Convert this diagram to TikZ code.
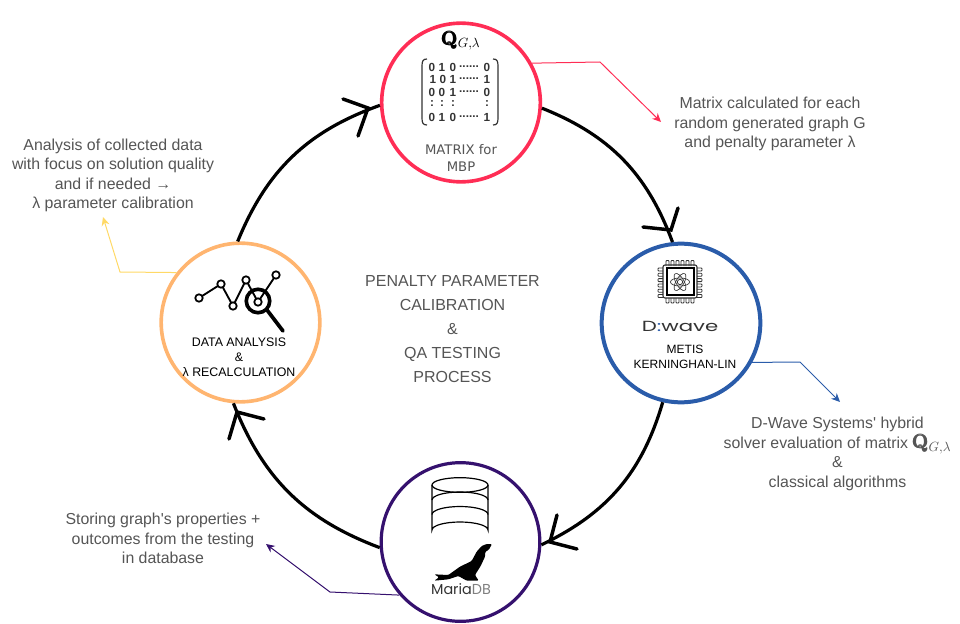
\documentclass[tikz,border=0pt]{standalone}
\usepackage{amsmath}
\usepackage[no-math]{fontspec}
\setmainfont{Liberation Sans}[Ligatures=TeXOff]
\newfontfamily\labelfont{DejaVu Sans}
\newfontfamily\logofont{Poppins}
\usetikzlibrary{arrows.meta}
\definecolor{cred}{HTML}{FF2D55}
\definecolor{cblue}{HTML}{2A5CAA}
\definecolor{cpurple}{HTML}{35116E}
\definecolor{corange}{HTML}{FFB570}
\definecolor{cyellow}{HTML}{FFD966}
\definecolor{ctext}{HTML}{555555}
\definecolor{cdark}{HTML}{333333}
\newcommand\rowdots{{.}{.}{.}{.}{.}{.}}
\newcommand\qmatrix{{\fontsize{14}{14}\selectfont$\pmb{\mathbf{Q}}_{G,\lambda}$}}
\tikzset{
  stage/.style={circle,draw,fill=white,minimum size=119pt,inner sep=0pt,line width=2.7pt},
  cyclearc/.style={line width=2.4pt,black},
  chevron/.style={line width=2.6pt,black,line cap=round},
  pointer/.style={line width=0.75pt,-{Stealth[length=6.5pt,width=6pt]}},
  note/.style={inner sep=0pt,align=center,text=ctext,font=\fontsize{11.9}{14.6}\selectfont},
  titletext/.style={inner sep=0pt,align=center,text=ctext,font=\fontsize{12}{18}\selectfont},
  caption/.style={inner sep=0pt,align=center,text=black,font=\fontsize{9}{11.2}\selectfont},
  digit/.style={inner sep=0pt,text=cdark,font=\bfseries\fontsize{8.8}{8.8}\selectfont},
  icon/.style={cdark,line width=0.8pt},
}
\begin{document}
\begin{tikzpicture}[x=0.75pt,y=-0.75pt]
\useasboundingbox (0,0) rectangle (960,624);
% stages
\node[stage,draw=cred]    (top)    at (461,102.5) {};
\node[stage,draw=cblue,line width=3pt]   (right)  at (681,323) {};
\node[stage,draw=cpurple,line width=2.4pt] (bottom) at (460.5,542) {};
\node[stage,draw=corange] (left)   at (240.5,322.5) {};
% cycle arcs
\draw[cyclearc] (top.-4) to[bend left=24] (right.96);
\draw[cyclearc] (right.257) to[bend left=24] (bottom.-2);
\draw[cyclearc] (bottom.184) to[bend left=24] (left.265);
\draw[cyclearc] (left.92) to[bend left=24] (top.182);
% chevrons
\draw[chevron] (343,99) -- (368,108) -- (358,136);
\draw[chevron] (678,208) -- (671,230) -- (643,227);
\draw[chevron] (557,515) -- (550,542) -- (577,549);
\draw[chevron] (229,439) -- (237,412) -- (264,419);
% centre title
\node[titletext] (title) at (452.5,329) {PENALTY PARAMETER\\CALIBRATION\\\&\\QA TESTING\\PROCESS};
% notes
\node[note] (noteA) at (770,124) {Matrix calculated for each\\random generated graph G\\and penalty parameter λ};
\node[note] (noteB) at (837.5,454) {D-Wave Systems' hybrid\\solver evaluation of matrix \qmatrix\\\&\\classical algorithms};
\node[note] (noteC) at (163,538.5) {Storing graph's properties +\\outcomes from the testing\\in database};
\node[note] (noteD) at (113,175.5) {Analysis of collected data\\with focus on solution quality\\and if needed →\\λ parameter calibration};
% pointers
\coordinate (kinkA) at (600,62);
\coordinate (tipA) at (661,122);
\coordinate (kinkB) at (800,362);
\coordinate (tipB) at (840,402);
\coordinate (kinkC) at (330,592);
\coordinate (tipC) at (266,544);
\coordinate (kinkD) at (120,272);
\coordinate (tipD) at (103,217);
\draw[pointer,cred] (top.29.7) -- (kinkA) -- (tipA);
\draw[pointer,cblue] (right.-29.5) -- (kinkB) -- (tipB);
\draw[pointer,cpurple] (bottom.221) -- (kinkC) -- (tipC);
\draw[pointer,cyellow] (left.142) -- (kinkD) -- (tipD);
% top stage contents
\node[inner sep=0pt,text=black] (qlabel) at (461,41) {\qmatrix};
\draw[cdark,line width=0.9pt] (427,59) .. controls (423,59) and (422,61) .. (422,66) -- (422,118) .. controls (422,123) and (423,125) .. (427,125);
\draw[cdark,line width=0.9pt] (493,59) .. controls (497,59) and (498,61) .. (498,66) -- (498,118) .. controls (498,123) and (497,125) .. (493,125);
\foreach \px/\py/\t [count=\n] in {
  432/67/0,442/67/1,453/67/0,469/67/\rowdots,487/67/0,
  433/79/1,443/79/0,453/79/1,469/79/\rowdots,487/79/1,
  432/92/0,442/92/0,453/92/1,469/92/\rowdots,487/92/0,
  432/104/:,442/104/:,453/104/:,487/104/:,
  432/117/0,442/117/1,453/117/0,469/117/\rowdots,487/117/1}
  \node[digit] (m\n) at (\px,\py) {\t};
\node[inner sep=0pt,align=center,text=ctext,font=\labelfont\fontsize{9.9}{12.75}\selectfont] (capTop) at (461,157.5) {MATRIX for\\MBP};
% right stage contents
\foreach \i in {0,...,5} {
  \draw[icon,rounded corners=0.6pt,line width=0.6pt] ({666+5*\i},266) -- ({666+5*\i},260.5) -- ({669+5*\i},260.5) -- ({669+5*\i},266);
  \draw[icon,rounded corners=0.6pt,line width=0.6pt] ({666+5*\i},298) -- ({666+5*\i},303) -- ({669+5*\i},303) -- ({669+5*\i},298);
  \draw[icon,rounded corners=0.6pt,line width=0.6pt] (663,{268+5.3*\i}) -- (658,{268+5.3*\i}) -- (658,{271+5.3*\i}) -- (663,{271+5.3*\i});
  \draw[icon,rounded corners=0.6pt,line width=0.6pt] (697,{268+5.3*\i}) -- (702,{268+5.3*\i}) -- (702,{271+5.3*\i}) -- (697,{271+5.3*\i});
}
\draw[icon,rounded corners=1.5pt] (663,265) rectangle (697,298);
\draw[black,line width=0.9pt] (667,268) rectangle (694,295);
\foreach \a in {0,60,120}
  \draw[icon,line width=0.5pt,rotate around={\a:(680,282)}] (680,282) ellipse [x radius=7.2pt,y radius=3pt];
\draw[icon,line width=0.6pt] (680,282) circle (2pt);
\node[inner sep=0pt,text=cdark,xscale=1.45,font=\logofont\fontsize{11}{11}\selectfont] (logoD) at (680,326.5) {D\textcolor{cblue}{:}wave};
\node[caption] (capRight) at (685,356.5) {METIS\\KERNINGHAN-LIN};
% bottom stage contents
\draw[black,line width=0.9pt] (432,485) -- (432,530) arc[start angle=180,end angle=360,x radius=28,y radius=8] -- (488,485);
\draw[black,line width=0.9pt] (460,485) ellipse [x radius=21pt,y radius=5.5pt];
\draw[black,line width=0.9pt] (432,500) arc[start angle=180,end angle=360,x radius=28,y radius=8];
\draw[black,line width=0.9pt] (432,514.5) arc[start angle=180,end angle=360,x radius=28,y radius=8];
\fill[black,rounded corners=0.8pt,shift={(370,460)},x=0.25pt,y=-0.25pt]
  (366,252) -- (350,252) -- (335,258) -- (320,275) -- (305,303) -- (270,320) -- (235,345) -- (193,343) -- (207,352) -- (193,362) -- (235,358) -- (265,348) -- (290,362) -- (326,362) -- (315,345) -- (332,318) -- (345,290) -- (346,275) -- (356,270) -- cycle;
\node[inner sep=0pt,text=cdark,font=\logofont\fontsize{10.8}{10.8}\selectfont] (logoM) at (461,589) {Maria\textcolor{gray}{DB}};
% left stage contents
\draw[black,line width=1.4pt] (199,298) -- (221,284) -- (233,306) -- (246,280) -- (258,302) -- (276,275);
\foreach \px/\py [count=\n] in {199/298,221/284,233/306,246/280,258/302,276/275}
  \draw[black,fill=white,line width=1.3pt] (\px,\py) circle (2.8pt);
\draw[black,line width=2.7pt] (258,301) circle (8.8pt);
\draw[black,line width=2.8pt,line cap=round] (267,310) -- (283,331);
\node[caption,font=\fontsize{9.3}{11.2}\selectfont] (capLeft) at (239,357) {DATA ANALYSIS\\\&\\λ RECALCULATION};
\end{tikzpicture}
\end{document}
